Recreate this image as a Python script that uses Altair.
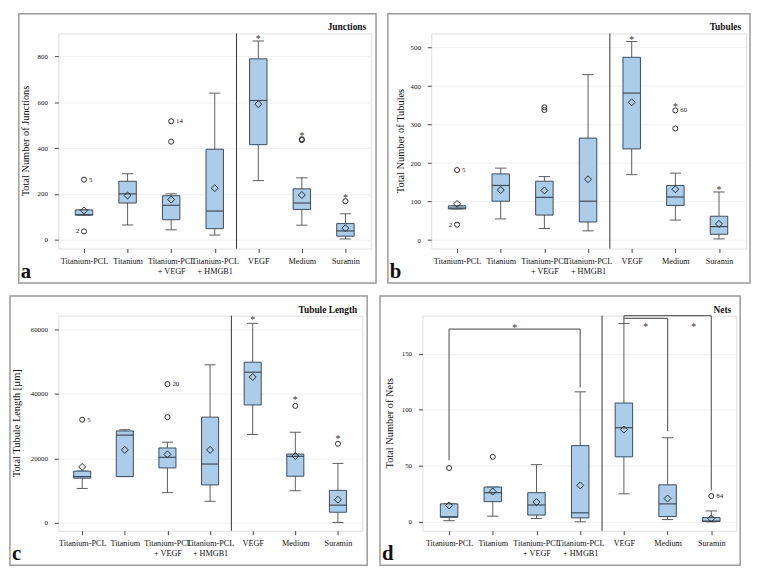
import json
import altair as alt
import pandas as pd

# ---------------- data ----------------
categories = ["Titanium-PCL", "Titanium", "Titanium-PCL|+ VEGF", "Titanium-PCL|+ HMGB1",
              "VEGF", "Medium", "Suramin"]

# Panel a: Junctions
junc_lo = [107, 64, 43, 20, 258, 63, 3]
junc_q1 = [107, 160, 87, 48, 415, 132, 15]
junc_med = [109, 200, 150, 125, 608, 160, 38]
junc_q3 = [130, 255, 192, 395, 790, 222, 70]
junc_hi = [130, 288, 200, 640, 868, 270, 113]
junc_mean = [127, 193, 175, 225, 592, 195, 50]
junc_out_x = [0, 0, 2, 2, 5, 5, 6]
junc_out_y = [262, 36, 428, 517, 435, 439, 168]
junc_out_lab = ["5", "2", "", "14", "", "", ""]
junc_out_side = ["r", "l", "r", "r", "r", "r", "r"]
junc_star_x = [4, 5, 6]
junc_star_y = [884, 462, 190]

# Panel b: Tubules
tub_lo = [81, 55, 30, 24, 170, 52, 3]
tub_q1 = [81, 101, 65, 47, 237, 90, 15]
tub_med = [83, 142, 111, 101, 382, 112, 35]
tub_q3 = [89, 172, 153, 265, 475, 142, 62]
tub_hi = [89, 187, 165, 430, 516, 174, 125]
tub_mean = [94, 130, 129, 158, 358, 132, 42]
tub_out_x = [0, 0, 2, 2, 5, 5]
tub_out_y = [182, 40, 338, 345, 290, 337]
tub_out_lab = ["5", "2", "", "", "", "60"]
tub_out_side = ["r", "l", "r", "r", "r", "r"]
tub_star_x = [4, 5, 6]
tub_star_y = [524, 350, 136]

# Panel c: Tubule Length
len_lo = [10600, 14300, 9300, 6600, 27400, 9900, 0]
len_q1 = [13800, 14300, 17000, 11700, 36600, 14400, 3200]
len_med = [14300, 27200, 20300, 18200, 46800, 20600, 5400]
len_q3 = [16000, 28500, 23200, 32800, 49900, 21300, 10000]
len_hi = [16000, 28900, 25000, 49100, 62000, 28100, 18400]
len_mean = [17300, 22600, 21200, 22600, 45300, 20700, 7100]
len_out_x = [0, 2, 2, 5, 6]
len_out_y = [32000, 32800, 43100, 36300, 24500]
len_out_lab = ["5", "", "20", "", ""]
len_out_side = ["r", "r", "r", "r", "r"]
len_star_x = [4, 5, 6]
len_star_y = [63600, 38700, 26500]

# Panel d: Nets
net_lo = [1, 5, 3, 0, 25, 2, 0]
net_q1 = [4, 18, 6, 3.5, 58, 4.7, 0.3]
net_med = [4.5, 26, 15, 8, 84, 16, 0.6]
net_q3 = [16, 31, 26, 68, 106, 33, 3.8]
net_hi = [16, 31, 51, 116, 177, 75, 9.7]
net_mean = [14.6, 27, 17.6, 32.5, 82.3, 20.8, 2.9]
net_out_x = [0, 1, 6]
net_out_y = [48, 58, 23]
net_out_lab = ["", "", "84"]
net_out_side = ["r", "r", "r"]
net_star_x = [1.5, 4.5, 5.6]
net_star_y = [175, 176, 176]
# significance brackets (segments)
net_br_x = [0, 0, 3, 4, 4, 6, 4, 5]
net_br_x2 = [0, 3, 3, 4, 6, 6, 5, 5]
net_br_y = [55, 172, 120, 177, 184, 28, 181.5, 81]
net_br_y2 = [172, 172, 172, 184, 184, 184, 181.5, 181.5]

# ---------------- style ----------------
FONT = "Liberation Serif"
BOX_FILL = "#abcdea"
BOX_STROKE = "#3e4a58"
WHISK = "#5c5c5c"
DARK = "#2a2a2a"
FRAME = "#9a9a9a"

label_expr = "split(" + json.dumps(categories) + "[datum.value], '|')"


def panel(lo, q1, med, q3, hi, mean, ox, oy, olab, oside, sx, sy,
          W, H, xdom, ydom, yticks, ytitle, title, letter, L, R, T, B, titlex,
          br=None):
    n = len(categories)
    df = pd.DataFrame({"i": list(range(n)), "lo": lo, "q1": q1, "med": med,
                       "q3": q3, "hi": hi, "mean": mean})
    df["bl"] = df["i"] - 0.2
    df["br"] = df["i"] + 0.2
    df["cl"] = df["i"] - 0.13
    df["cr"] = df["i"] + 0.13
    out = pd.DataFrame({"i": ox, "v": oy, "lab": olab, "side": oside})
    stars = pd.DataFrame({"i": sx, "v": sy, "t": ["*"] * len(sx)})
    one = pd.DataFrame({"t": [title], "l": [letter], "yt": [ytitle]})

    xs = alt.Scale(domain=xdom, nice=False, zero=False, padding=0)
    ys = alt.Scale(domain=ydom, nice=False, zero=False, padding=0)
    xax = alt.Axis(values=list(range(n)), labelExpr=label_expr, title=None,
                   grid=False, domain=False, tickSize=4, tickColor="#444",
                   labelFont=FONT, labelFontSize=8.3, labelColor="#111",
                   labelPadding=4, labelOverlap=False, labelFlush=False,
                   labelBound=False, labelLineHeight=10)
    yax = alt.Axis(values=yticks, format="d", title=None, grid=True,
                   gridColor="#f0f0f0", domain=False, tickSize=4, tickColor="#444",
                   labelFont=FONT, labelFontSize=7, labelColor="#111", labelPadding=7)

    def X(f):
        return alt.X(f, type="quantitative", scale=xs, axis=xax)

    def Y(f):
        return alt.Y(f, type="quantitative", scale=ys, axis=yax)

    base = alt.Chart(df)
    layers = []
    # outer panel frame (decorative)
    layers.append(alt.Chart(one).mark_rect(fillOpacity=0, stroke=FRAME, strokeWidth=1.5)
                  .encode(x=alt.value(-L), x2=alt.value(W + R),
                          y=alt.value(-T), y2=alt.value(H + B)))
    layers.append(base.mark_rule(color=WHISK, strokeWidth=1).encode(
        x=X("i"), y=Y("lo"), y2="q1"))
    layers.append(base.mark_rule(color=WHISK, strokeWidth=1).encode(
        x=X("i"), y=Y("q3"), y2="hi"))
    layers.append(base.mark_rule(color=WHISK, strokeWidth=1).encode(
        x=X("cl"), x2="cr", y=Y("lo")))
    layers.append(base.mark_rule(color=WHISK, strokeWidth=1).encode(
        x=X("cl"), x2="cr", y=Y("hi")))
    layers.append(base.mark_rect(fill=BOX_FILL, stroke=BOX_STROKE, strokeWidth=1).encode(
        x=X("bl"), x2="br", y=Y("q1"), y2="q3"))
    layers.append(base.mark_rule(color=BOX_STROKE, strokeWidth=1.2).encode(
        x=X("bl"), x2="br", y=Y("med")))
    layers.append(base.mark_point(shape="diamond", size=50, filled=False,
                                  color=DARK, strokeWidth=1, opacity=1).encode(
        x=X("i"), y=Y("mean")))
    oc = alt.Chart(out)
    layers.append(oc.mark_point(shape="circle", size=26, filled=False, color=DARK,
                                strokeWidth=1, opacity=1).encode(x=X("i"), y=Y("v")))
    layers.append(oc.transform_filter("datum.side == 'r'").mark_text(
        align="left", baseline="middle", dx=5, font=FONT, fontSize=7, color="#222")
        .encode(x=X("i"), y=Y("v"), text="lab:N"))
    layers.append(oc.transform_filter("datum.side == 'l'").mark_text(
        align="right", baseline="middle", dx=-5, font=FONT, fontSize=7, color="#222")
        .encode(x=X("i"), y=Y("v"), text="lab:N"))
    layers.append(alt.Chart(stars).mark_text(
        align="center", baseline="middle", dy=2, font=FONT, fontSize=10, color="#333")
        .encode(x=X("i"), y=Y("v"), text="t:N"))
    if br is not None:
        bdf = pd.DataFrame({"x": br[0], "x2": br[1], "y": br[2], "y2": br[3]})
        layers.append(alt.Chart(bdf).mark_rule(color="#666", strokeWidth=1.2).encode(
            x=X("x"), x2="x2", y=Y("y"), y2="y2"))
    # divider between groups
    layers.append(alt.Chart(pd.DataFrame({"d": [3.5]})).mark_rule(color="#333", strokeWidth=1)
                  .encode(x=X("d"), y=alt.value(0), y2=alt.value(H)))
    # y-axis title
    layers.append(alt.Chart(one).mark_text(align="center", baseline="middle", angle=270,
                                           font=FONT, fontSize=10.5, color="#111")
                  .encode(x=alt.value(titlex), y=alt.value(H / 2), text="yt:N"))
    layers.append(alt.Chart(one).mark_text(align="right", baseline="alphabetic",
                                           font=FONT, fontSize=9.5, fontWeight="bold",
                                           color="#111")
                  .encode(x=alt.value(W - 5), y=alt.value(-3), text="t:N"))
    layers.append(alt.Chart(one).mark_text(align="left", baseline="alphabetic",
                                           font=FONT, fontSize=21, fontWeight="bold",
                                           color="#111")
                  .encode(x=alt.value(-L + 2), y=alt.value(H + B - 5), text="l:N"))
    return alt.layer(*layers).properties(width=W, height=H)


pa = panel(junc_lo, junc_q1, junc_med, junc_q3, junc_hi, junc_mean,
           junc_out_x, junc_out_y, junc_out_lab, junc_out_side, junc_star_x, junc_star_y,
           317, 218, [-0.59, 6.59], [-39, 901], [0, 200, 400, 600, 800],
           "Total Number of Junctions", "Junctions", "a", 40, 5, 20, 35, -33)
pb = panel(tub_lo, tub_q1, tub_med, tub_q3, tub_hi, tub_mean,
           tub_out_x, tub_out_y, tub_out_lab, tub_out_side, tub_star_x, tub_star_y,
           319, 218, [-0.59, 6.62], [-22, 537], [0, 100, 200, 300, 400, 500],
           "Total Number of Tubules", "Tubules", "b", 44, 4, 20, 35, -31)
pc = panel(len_lo, len_q1, len_med, len_q3, len_hi, len_mean,
           len_out_x, len_out_y, len_out_lab, len_out_side, len_star_x, len_star_y,
           308, 218, [-0.56, 6.57], [-2570, 64400], [0, 20000, 40000, 60000],
           "Total Tubule Length [µm]", "Tubule Length", "c", 49, 5, 20, 35, -42)
pd_ = panel(net_lo, net_q1, net_med, net_q3, net_hi, net_mean,
            net_out_x, net_out_y, net_out_lab, net_out_side, net_star_x, net_star_y,
            318, 218, [-0.61, 6.57], [-8, 184], [0, 50, 100, 150],
            "Total Number of Nets", "Nets", "d", 43, 4, 20, 35, -33,
            br=(net_br_x, net_br_x2, net_br_y, net_br_y2))

chart = alt.vconcat(
    alt.hconcat(pa, pb, spacing=8),
    alt.hconcat(pc, pd_, spacing=9),
    spacing=9,
).properties(padding=0).configure_view(stroke="#555", strokeWidth=1).configure(
    background="white")

chart.save("out.html", embed_options={"renderer": "svg", "actions": False})
